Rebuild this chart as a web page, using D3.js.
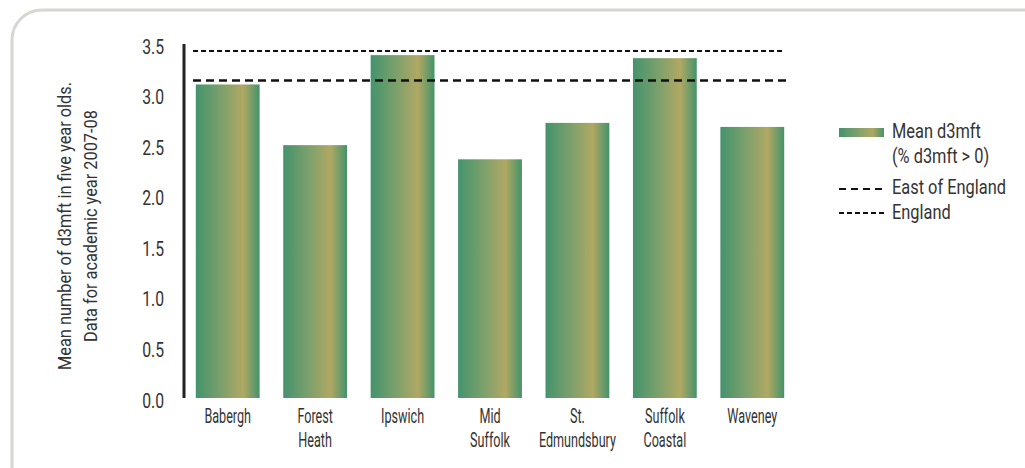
<!DOCTYPE html>
<html>
<head>
<meta charset="utf-8">
<script src="https://cdn.jsdelivr.net/npm/d3@7"></script>
<style>
  body { margin: 0; background: #fff; }
  svg text { font-family: Roboto, sans-serif; fill: #333; }
</style>
</head>
<body>
<div id="chart"></div>
<script>
// data
var districts = ['Babergh', 'Forest Heath', 'Ipswich', 'Mid Suffolk', 'St. Edmundsbury', 'Suffolk Coastal', 'Waveney'];
var districtLabels = [['Babergh'], ['Forest', 'Heath'], ['Ipswich'], ['Mid', 'Suffolk'], ['St.', 'Edmundsbury'], ['Suffolk', 'Coastal'], ['Waveney']];
var meanD3mft = [3.10, 2.50, 3.39, 2.36, 2.72, 3.36, 2.68];
var eastOfEngland = 3.14;
var england = 3.43;
var yTicks = [0, 0.5, 1, 1.5, 2, 2.5, 3, 3.5];

var width = 1025, height = 468;

var svg = d3.select('#chart').append('svg')
        .attr('width', width)
        .attr('height', height);

// panel border
svg.append('rect')
        .attr('x', 12).attr('y', 10)
        .attr('width', 1050).attr('height', 500)
        .attr('rx', 30)
        .attr('fill', 'none')
        .attr('stroke', '#d6d6d2')
        .attr('stroke-width', 3);

// bar gradient
var defs = svg.append('defs');
var grad = defs.append('linearGradient').attr('id', 'barGrad')
        .attr('x1', '0%').attr('x2', '100%').attr('y1', '0%').attr('y2', '0%');
grad.append('stop').attr('offset', '0%').attr('stop-color', '#44936c');
grad.append('stop').attr('offset', '40%').attr('stop-color', '#7ca06c');
grad.append('stop').attr('offset', '74%').attr('stop-color', '#b1a863');
grad.append('stop').attr('offset', '100%').attr('stop-color', '#44936c');

var xscale = d3.scaleBand().domain(districts).range([184, 796]).paddingInner(0.27).paddingOuter(0.135);
var yscale = d3.scaleLinear().domain([0, 3.5]).range([398, 44]);

// squeezed text helper: a group at (x,y) scaled in x to mimic the narrow face
function label(parent, x, y, lines, size, sx, anchor, lineGap, rotate) {
        var g = parent.append('g')
                .attr('transform', 'translate(' + x + ',' + y + ')' + (rotate ? ' rotate(' + rotate + ')' : '') + ' scale(' + sx + ',1)');
        var t = g.append('text')
                .attr('text-anchor', anchor)
                .attr('font-size', size);
        lines.forEach(function (s, j) {
                t.append('tspan').attr('x', 0).attr('dy', j === 0 ? 0 : lineGap).text(s);
        });
        return g;
}

// bars
svg.selectAll('rect.bar')
        .data(meanD3mft)
        .enter().append('rect')
        .attr('class', 'bar')
        .attr('x', function (d, i) { return xscale(districts[i]); })
        .attr('width', xscale.bandwidth())
        .attr('y', function (d) { return yscale(d); })
        .attr('height', function (d) { return yscale(0) - yscale(d); })
        .attr('fill', 'url(#barGrad)');

// reference lines
svg.append('line')
        .attr('x1', 193).attr('x2', 783)
        .attr('y1', yscale(england)).attr('y2', yscale(england))
        .attr('stroke', '#111').attr('stroke-width', 2)
        .attr('stroke-dasharray', '5,3');
svg.append('line')
        .attr('x1', 193).attr('x2', 786)
        .attr('y1', yscale(eastOfEngland)).attr('y2', yscale(eastOfEngland))
        .attr('stroke', '#111').attr('stroke-width', 2.5)
        .attr('stroke-dasharray', '8,5');

// y axis
var yAxis = svg.append('g')
        .attr('transform', 'translate(184,0)')
        .call(d3.axisLeft(yscale).tickValues(yTicks).tickSize(0).tickFormat(''));
yAxis.select('.domain').attr('stroke', '#222').attr('stroke-width', 3)
        .attr('d', 'M0,' + yscale(3.5) + 'V' + yscale(0));
yAxis.selectAll('.tick').each(function (d) {
        label(d3.select(this), -20, 9, [d3.format('.1f')(d)], 21, 0.75, 'end', 0);
});

// x labels
districtLabels.forEach(function (lines, i) {
        label(svg, xscale(districts[i]) + xscale.bandwidth() / 2, 423, lines, 20, 0.63, 'middle', 24);
});

// y title
label(svg, 71, 226, ['Mean number of d3mft in five year olds.', 'Data for academic year 2007-08'], 19, 0.86, 'middle', 26, -90);

// legend
var lg = svg.append('g');
lg.append('rect').attr('x', 839).attr('y', 128).attr('width', 45).attr('height', 9).attr('fill', 'url(#barGrad)');
label(lg, 892, 138, ['Mean d3mft'], 20, 0.82, 'start', 0);
label(lg, 892, 163, ['(% d3mft > 0)'], 20, 0.82, 'start', 0);
lg.append('line').attr('x1', 839).attr('x2', 884).attr('y1', 189).attr('y2', 189)
        .attr('stroke', '#111').attr('stroke-width', 2).attr('stroke-dasharray', '7,5');
label(lg, 892, 194, ['East of England'], 20, 0.82, 'start', 0);
lg.append('line').attr('x1', 839).attr('x2', 884).attr('y1', 213).attr('y2', 213)
        .attr('stroke', '#111').attr('stroke-width', 2).attr('stroke-dasharray', '5,3');
label(lg, 892, 219, ['England'], 20, 0.82, 'start', 0);
</script>
</body>
</html>
